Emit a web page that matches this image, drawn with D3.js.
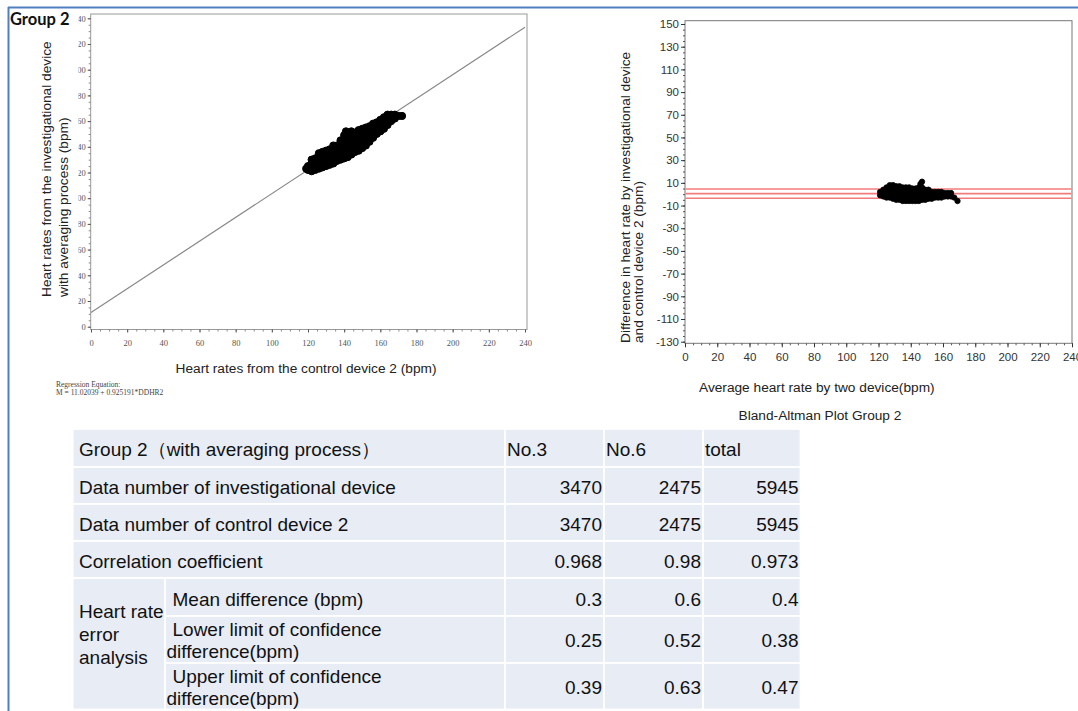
<!DOCTYPE html>
<html>
<head>
<meta charset="utf-8">
<script src="https://cdn.jsdelivr.net/npm/d3@7"></script>
<style>
  body { margin: 0; background: #fff; }
  svg { display: block; font-family: "Liberation Sans", Arial, sans-serif; }
</style>
</head>
<body>
<div id="chart"></div>
<script>
// ---- data ----
var axisTicks = [0, 20, 40, 60, 80, 100, 120, 140, 160, 180, 200, 220, 240];
var diffTicks = [150, 130, 110, 90, 70, 50, 30, 10, -10, -30, -50, -70, -90, -110, -130];
var regIntercept = 11.02039;
var regSlope = 0.925191;
var limitLines = [4.6, 0.5, -3.6];

// control device (x) vs investigational device (y)
var corrPoints = [
  [120,122],[120,125],[119,123],
  [122,121],[122,124],[122,127],[122,130],
  [124,122],[124,125],[124,128],[124,131],
  [126,123],[126,126],[126,129],[126,132],[126,135],
  [128,124],[128,127],[128,130],[128,133],[128,136],
  [130,125],[130,128],[130,131],[130,134],[130,137],
  [132,126],[132,129],[132,132],[132,135],[132,138],
  [134,127],[134,130],[134,133],[134,136],[134,139],[134,141],
  [136,129],[136,132],[136,135],[136,138],[136,141],
  [138,130],[138,133],[138,136],[138,139],[138,142],[138,145],
  [140,131],[140,134],[140,137],[140,140],[140,143],[140,146],[140,149],[141,152],
  [142,132],[142,135],[142,138],[142,141],[142,144],[142,147],[142,150],
  [144,134],[144,137],[144,140],[144,143],[144,146],[144,149],[144,152],
  [146,136],[146,139],[146,142],[146,145],[146,148],[146,151],
  [148,137],[148,141],[148,144],[148,147],[148,150],[148,153],
  [150,139],[150,142],[150,145],[150,148],[150,151],[150,154],
  [152,141],[152,144],[152,147],[152,150],[152,153],[152,155],
  [154,144],[154,147],[154,150],[154,153],[154,156],
  [156,147],[156,150],[156,153],[156,156],[156,158],
  [158,150],[158,153],[158,156],[158,159],
  [160,152],[160,155],[160,158],[160,161],
  [162,154],[162,157],[162,160],[162,163],
  [164,157],[164,160],[164,163],[164,165],
  [166,160],[166,163],[166,165],
  [168,162],[168,165],
  [170,164],[172,164]
];

// average heart rate (x) vs difference (y)
var baPoints = [
  [121,-1],[121,2],
  [123,-2],[123,1],[123,4],
  [125,-3],[125,0],[125,3],[125,6],
  [127,-3],[127,0],[127,3],[127,6],[127,8],
  [129,-4],[129,-1],[129,2],[129,5],[129,8],
  [131,-5],[131,-2],[131,1],[131,4],[131,7],
  [133,-5],[133,-2],[133,1],[133,4],[133,7],
  [135,-6],[135,-3],[135,0],[135,3],[135,6],
  [137,-6],[137,-3],[137,0],[137,3],[137,6],
  [139,-6],[139,-3],[139,0],[139,3],[139,6],
  [141,-6],[141,-3],[141,0],[141,3],[141,5],
  [143,-6],[143,-3],[143,0],[143,3],[143,5],
  [145,-6],[145,-3],[145,0],[145,3],[145,6],[146,9],
  [147,-5],[147,-2],[147,1],[147,4],[147,6],[147,11],
  [149,-5],[149,-2],[149,1],[149,4],
  [151,-4],[151,-1],[151,2],[151,4],
  [153,-4],[153,-1],[153,2],
  [155,-3],[155,0],[155,2],
  [157,-3],[157,0],[157,2],
  [159,-3],[159,0],[159,2],
  [161,-2],[161,1],
  [163,-2],[163,1],
  [165,-2],[165,1],
  [167,-3],[169,-6]
];

// table
var colHeads = ["No.3", "No.6", "total"];
var tableTitle = "Group 2（with averaging process）";
var rowNames = ["Data number of investigational device", "Data number of control device 2", "Correlation coefficient"];
var rowValues = [["3470", "2475", "5945"], ["3470", "2475", "5945"], ["0.968", "0.98", "0.973"]];
var groupName = ["Heart rate", "error", "analysis"];
var subNames = [["Mean difference (bpm)"], ["Lower limit of confidence", "difference(bpm)"], ["Upper limit of confidence", "difference(bpm)"]];
var subValues = [["0.3", "0.6", "0.4"], ["0.25", "0.52", "0.38"], ["0.39", "0.63", "0.47"]];

// ---- drawing ----
var svg = d3.select("#chart").append("svg")
  .attr("width", 1078).attr("height", 711);

svg.append("rect").attr("width", 1078).attr("height", 711).attr("fill", "#fff");

// blue frame of the slide
svg.append("line").attr("x1", 8).attr("x2", 1078).attr("y1", 7.5).attr("y2", 7.5)
  .attr("stroke", "#4f7fbf").attr("stroke-width", 2);
svg.append("line").attr("x1", 8.5).attr("x2", 8.5).attr("y1", 7).attr("y2", 711)
  .attr("stroke", "#4f7fbf").attr("stroke-width", 2);

var styleAxis = function(g, font, size, color){
  g.select(".domain").remove();
  g.selectAll("line").attr("stroke", color);
  g.selectAll("text").attr("font-family", font).attr("font-size", size).attr("fill", color);
};
var plain = function(d){ return String(d); };

// ===== left plot: regression =====
var xL = d3.scaleLinear().domain([0, 240]).range([91, 525]);
var yL = d3.scaleLinear().domain([0, 240]).range([326.7, 18.3]);
var minorL = d3.range(0, 241, 5);

// the tick labels of the left axis are cut at the picture edge
svg.append("defs").append("clipPath").attr("id", "ylabClip")
  .append("rect").attr("x", 78.5).attr("y", 0).attr("width", 1000).attr("height", 711);

svg.append("rect").attr("x", 90.7).attr("y", 14).attr("width", 436.3).attr("height", 315.5)
  .attr("fill", "none").attr("stroke", "#999").attr("stroke-width", 1);

svg.append("g").attr("transform", "translate(0,329.5)")
  .call(d3.axisBottom(xL).tickValues(minorL).tickSize(2).tickFormat(""))
  .call(styleAxis, "Liberation Serif", 7, "#888");
svg.append("g").attr("transform", "translate(0,329.5)")
  .call(d3.axisBottom(xL).tickValues(axisTicks).tickSize(3).tickPadding(7).tickFormat(plain))
  .call(styleAxis, "Liberation Serif", 8.5, "#555");

svg.append("g").attr("transform", "translate(90.7,0)")
  .call(d3.axisLeft(yL).tickValues(minorL).tickSize(2).tickFormat(""))
  .call(styleAxis, "Liberation Serif", 7, "#888");
svg.append("g").attr("clip-path", "url(#ylabClip)")
  .append("g").attr("transform", "translate(90.7,0)")
  .call(d3.axisLeft(yL).tickValues(axisTicks).tickSize(3).tickPadding(2).tickFormat(plain))
  .call(styleAxis, "Liberation Serif", 8.5, "#555");

svg.append("line")
  .attr("x1", xL(0)).attr("y1", yL(regIntercept))
  .attr("x2", xL(240)).attr("y2", yL(regIntercept + regSlope * 240))
  .attr("stroke", "#888").attr("stroke-width", 1.2);

svg.append("g").selectAll("circle").data(corrPoints).join("circle")
  .attr("cx", function(d){ return xL(d[0]); })
  .attr("cy", function(d){ return yL(d[1]); })
  .attr("r", 3.6).attr("fill", "#000").attr("stroke", "#000").attr("stroke-width", 1);

svg.append("text").attr("transform", "translate(51,297) rotate(-90)")
  .attr("font-size", 13.7).attr("fill", "#222")
  .text("Heart rates from the investigational device");
svg.append("text").attr("transform", "translate(68,297) rotate(-90)")
  .attr("font-size", 13.7).attr("fill", "#222")
  .text("with averaging process (bpm)");
svg.append("text").attr("x", 306).attr("y", 373).attr("text-anchor", "middle")
  .attr("font-size", 13.7).attr("fill", "#222")
  .text("Heart rates from the control device 2 (bpm)");

svg.append("text").attr("x", 56).attr("y", 387)
  .attr("font-family", "Liberation Serif").attr("font-size", 7.5).attr("fill", "#444")
  .text("Regression Equation:");
svg.append("text").attr("x", 56).attr("y", 395)
  .attr("font-family", "Liberation Serif").attr("font-size", 7.5).attr("fill", "#444")
  .text("M = " + regIntercept + " + " + regSlope + "*DDHR2");

svg.append("text").attr("x", 10).attr("y", 25)
  .attr("font-family", "Lato").attr("font-weight", 700).attr("font-size", 16.5).attr("fill", "#111")
  .text("Group 2");

// ===== right plot: Bland-Altman =====
var xR = d3.scaleLinear().domain([0, 240]).range([685, 1072]);
var yR = d3.scaleLinear().domain([-130, 150]).range([341.7, 24]);

svg.append("rect").attr("x", 685).attr("y", 20.7).attr("width", 387).attr("height", 322.6)
  .attr("fill", "none").attr("stroke", "#777").attr("stroke-width", 1);

svg.append("g").attr("transform", "translate(0,343.3)")
  .call(d3.axisBottom(xR).tickValues(minorL).tickSize(2).tickFormat(""))
  .call(styleAxis, "Liberation Sans", 11, "#555");
svg.append("g").attr("transform", "translate(0,343.3)")
  .call(d3.axisBottom(xR).tickValues(axisTicks).tickSize(4).tickPadding(6).tickFormat(plain))
  .call(styleAxis, "Liberation Sans", 11.5, "#333");

svg.append("g").attr("transform", "translate(685,0)")
  .call(d3.axisLeft(yR).tickValues(d3.range(-130, 151, 5)).tickSize(2).tickFormat(""))
  .call(styleAxis, "Liberation Sans", 11, "#555");
svg.append("g").attr("transform", "translate(685,0)")
  .call(d3.axisLeft(yR).tickValues(diffTicks).tickSize(4).tickPadding(2).tickFormat(plain))
  .call(styleAxis, "Liberation Sans", 11.5, "#333");

svg.append("g").selectAll("line").data(limitLines).join("line")
  .attr("x1", 685.5).attr("x2", 1071.5)
  .attr("y1", function(d){ return yR(d); }).attr("y2", function(d){ return yR(d); })
  .attr("stroke", "#f47b7b").attr("stroke-width", 1.6);

svg.append("g").selectAll("circle").data(baPoints).join("circle")
  .attr("cx", function(d){ return xR(d[0]); })
  .attr("cy", function(d){ return yR(d[1]); })
  .attr("r", 2.7).attr("fill", "#000").attr("stroke", "#000").attr("stroke-width", 0.8);

svg.append("text").attr("transform", "translate(630,343) rotate(-90)")
  .attr("font-size", 13.7).attr("fill", "#222")
  .text("Difference in heart rate by investigational device");
svg.append("text").attr("transform", "translate(643,343) rotate(-90)")
  .attr("font-size", 13.7).attr("fill", "#222")
  .text("and control device 2 (bpm)");
svg.append("text").attr("x", 699).attr("y", 392)
  .attr("font-size", 13.7).attr("fill", "#222")
  .text("Average heart rate by two device(bpm)");
svg.append("text").attr("x", 820).attr("y", 420).attr("text-anchor", "middle")
  .attr("font-size", 13.7).attr("fill", "#222")
  .text("Bland-Altman Plot Group 2");

// ===== table =====
var colX = [72.7, 505, 604, 703, 800.5];
var rowY = [429, 467, 504, 541, 578, 616, 663, 709.5];
var subX = 165;
var cellFill = "#e8ecf5";
var fs = 19;
var tbl = svg.append("g").attr("font-size", fs).attr("fill", "#111");

var cell = function(x0, y0, x1, y1){
  tbl.append("rect").attr("x", x0).attr("y", y0).attr("width", x1 - x0).attr("height", y1 - y0)
    .attr("fill", cellFill).attr("stroke", "#fff").attr("stroke-width", 1.8);
};

// header + simple rows
for (var r = 0; r < 4; r++) {
  for (var c = 0; c < 4; c++) cell(colX[c], rowY[r], colX[c + 1], rowY[r + 1]);
}
cell(colX[0], rowY[4], subX, rowY[7]);
for (var r2 = 4; r2 < 7; r2++) {
  cell(subX, rowY[r2], colX[1], rowY[r2 + 1]);
  for (var c2 = 1; c2 < 4; c2++) cell(colX[c2], rowY[r2], colX[c2 + 1], rowY[r2 + 1]);
}

tbl.append("text").attr("x", 79).attr("y", rowY[0] + 26.5).text(tableTitle);
colHeads.forEach(function(h, i){
  tbl.append("text").attr("x", colX[i + 1] + 2).attr("y", rowY[0] + 26.5).text(h);
});
rowNames.forEach(function(name, i){
  tbl.append("text").attr("x", 79).attr("y", rowY[i + 1] + 26.5).text(name);
  rowValues[i].forEach(function(v, j){
    tbl.append("text").attr("x", colX[j + 2] - 2).attr("y", rowY[i + 1] + 26.5)
      .attr("text-anchor", "end").text(v);
  });
});

groupName.forEach(function(t, i){
  tbl.append("text").attr("x", 79).attr("y", 618 + i * 23).text(t);
});
subNames.forEach(function(lines, i){
  var top = rowY[4 + i];
  if (lines.length === 1) {
    tbl.append("text").attr("x", 172.5).attr("y", top + 27.5).text(lines[0]);
  } else {
    tbl.append("text").attr("x", 172.5).attr("y", top + 19.5).text(lines[0]);
    tbl.append("text").attr("x", 166.5).attr("y", top + 41.5).text(lines[1]);
  }
  var mid = (top + rowY[5 + i]) / 2;
  subValues[i].forEach(function(v, j){
    tbl.append("text").attr("x", colX[j + 2] - 2).attr("y", lines.length === 1 ? top + 27.5 : mid + 7.5)
      .attr("text-anchor", "end").text(v);
  });
});
</script>
</body>
</html>
